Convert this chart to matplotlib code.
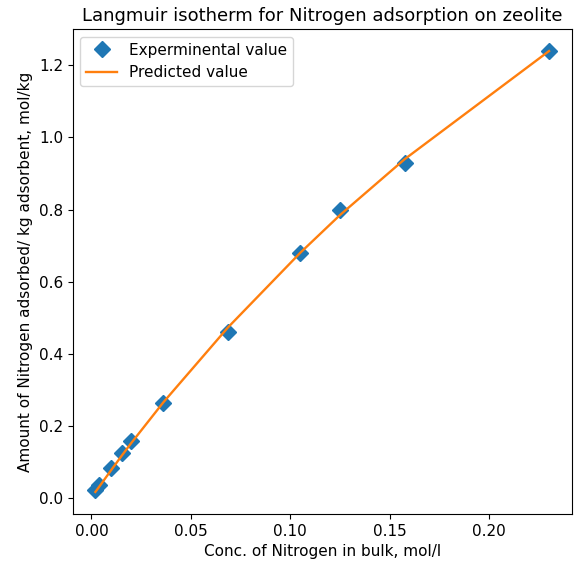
import matplotlib
matplotlib.use("Agg")
import matplotlib.pyplot as plt

# concentration in bulk (mol/l)
conc = [0.002, 0.004, 0.010, 0.0153, 0.0198, 0.0362, 0.0687, 0.105, 0.125, 0.1575, 0.230]
# measured amount adsorbed (mol/kg)
q_exp = [0.022, 0.036, 0.083, 0.125, 0.157, 0.262, 0.461, 0.680, 0.800, 0.928, 1.240]
# predicted amount adsorbed (mol/kg)
q_pred = [0.016, 0.031, 0.077, 0.117, 0.150, 0.265, 0.473, 0.680, 0.785, 0.940, 1.240]

fig = plt.figure(figsize=(5.75, 5.73), dpi=100)
ax = fig.add_axes([0.1264, 0.1030, 0.8679, 0.8464])

ax.plot(conc, q_exp, "D", color="#1f77b4", markersize=8, label="Experminental value")
ax.plot(conc, q_pred, color="#ff7f0e", linewidth=1.7, label="Predicted value")

ax.set_title("Langmuir isotherm for Nitrogen adsorption on zeolite", fontsize=13)
ax.set_xlabel("Conc. of Nitrogen in bulk, mol/l", fontsize=11)
ax.set_ylabel("Amount of Nitrogen adsorbed/ kg adsorbent, mol/kg", fontsize=11)
ax.set_xticks([0.00, 0.05, 0.10, 0.15, 0.20])
ax.set_yticks([0.0, 0.2, 0.4, 0.6, 0.8, 1.0, 1.2])
ax.tick_params(labelsize=11)
ax.legend(loc="upper left", fontsize=11)

fig.savefig("out.png", dpi=100)
